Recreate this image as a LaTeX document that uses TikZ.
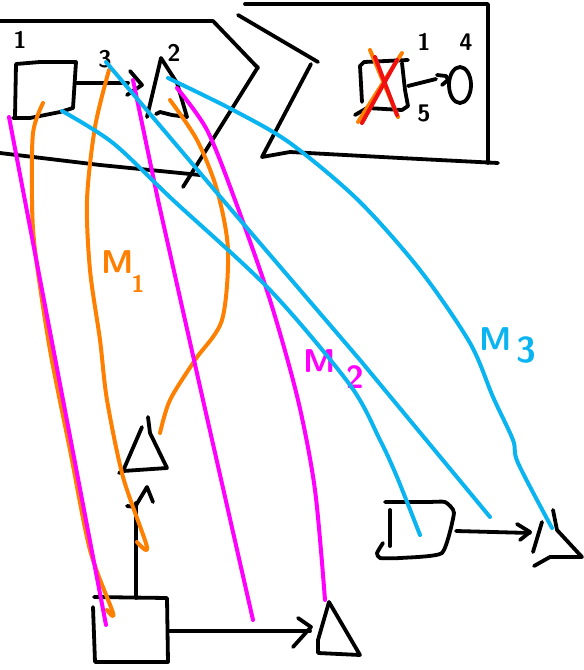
\documentclass[tikz,border=0pt]{standalone}
\usepackage{amsmath,amssymb}
\usetikzlibrary{calc,positioning}

\tikzset{
  sketchline/.style={draw=black, line width=3.8pt, line cap=round, line join=round},
  mapline/.style={line width=4pt, line cap=round, line join=round},
  numlabel/.style={font=\sffamily\bfseries\fontsize{24}{24}\selectfont, text=black, inner sep=0pt},
  maplabel/.style={font=\sffamily\bfseries\fontsize{33}{33}\selectfont, inner sep=0pt},
}

\begin{document}
\begin{tikzpicture}[x=1pt,y=-1pt]
    \definecolor{maporange}{HTML}{ff8000}
    \definecolor{mapmagenta}{HTML}{ff00ff}
    \definecolor{mapcyan}{HTML}{0ab4f0}
    \definecolor{crossred}{HTML}{f01010}
    \useasboundingbox (0,0) rectangle (584,670);

    % =================== left panel ===================
    \draw[sketchline] (0,21) -- (213,21) -- (258,68);
    \draw[sketchline] (258,67) -- (183,187);
    \draw[sketchline] (0,153) -- (100,165) -- (200,175);

    % =================== right panel ===================
    \draw[sketchline] (245,4) -- (488,4) -- (488,163);
    \draw[sketchline] (498,163) -- (400,158) -- (290,152) -- (262,157) -- (311,64);
    \draw[sketchline] (238,15) -- (318,62);

    % crossed square, circle
    \draw[sketchline] (362,102) -- (360,66) -- (364,62) -- (408,60);
    \draw[sketchline] (402,63) -- (405,90) -- (408,106) -- (402,110) -- (367,108) -- (355,115);
    \coordinate (crossout) at (408,86);
    \coordinate (circin) at (436,79);
    \draw[sketchline] (crossout) -- (circin);
    \draw[sketchline] (437,75) -- (446,76) -- (448,80) -- (442,85);
    \draw[sketchline] (460,85) ellipse (11 and 18);
    \node[numlabel] (numone) at (424,42) {1};
    \node[numlabel] (numfour) at (466,42) {4};
    \node[numlabel] (numfive) at (424,113) {5};
    \foreach \a/\b/\c/\d/\col in {370/50/398/117/maporange, 402/53/358/122/maporange,
                                  375/57/397/115/crossred, 397/60/362/123/crossred}{
      \draw[mapline, draw=\col] (\a,\b) -- (\c,\d);
    }

    % =================== top source shapes ===================
    \draw[sketchline] (15,117) -- (16,64) -- (40,62) -- (76,62) -- (73,108) -- (60,112) -- (30,118) -- (13,118);
    \coordinate (sqout) at (77,83);
    \coordinate (triin) at (128,83);
    \draw[sketchline] (sqout) -- (triin);
    \draw[sketchline] (130,71) -- (142,85) -- (127,95);
    \draw[sketchline] (147,117) -- (161,58) -- (177,83) -- (187,117);
    \draw[sketchline] (187,117) -- (172,115) -- (160,112) -- (156,114);
    \node[numlabel] (srcone) at (20,40) {1};
    \node[numlabel] (srcthree) at (105,59) {3};
    \node[numlabel] (srctwo) at (174,53) {2};

    % =================== lower left shapes ===================
    \draw[sketchline] (142,427) -- (123,471) -- (167,468) -- (150,433) -- (148,417);
    \draw[sketchline] (119,473) -- (123,471);
    \draw[sketchline] (93,607) -- (95,662) -- (168,662) -- (167,598) -- (94,597);
    \coordinate (lowout) at (136,598);
    \coordinate (lowtop) at (136,503);
    \draw[sketchline] (lowout) -- (lowtop);
    \draw[sketchline] (127,506) -- (135,507) -- (147,487) -- (153,502);
    \coordinate (lowright) at (170,631);
    \coordinate (lowhead) at (310,631);
    \draw[sketchline] (lowright) -- (lowhead);
    \draw[sketchline] (298,618) -- (311,627) -- (293,647);
    \draw[sketchline] (329,602) -- (318,640) -- (318,653) -- (360,655) -- (329,602);

    % =================== lower right shapes ===================
    \draw[sketchline] plot[smooth, tension=0.3] coordinates {(385,502) (428,502) (445,502) (454,513) (442,553) (400,558) (380,558) (377,553) (383,543)};
    \draw[sketchline] (390,510) -- (390,546);
    \coordinate (rightout) at (456,531);
    \coordinate (righthead) at (530,533);
    \draw[sketchline] (rightout) -- (righthead);
    \draw[sketchline] (517,524) -- (530,532) -- (520,540);
    \draw[sketchline] (542,522) -- (533,552);
    \draw[sketchline] (553,510) -- (557,530) -- (582,557) -- (550,557) -- (534,566);

    % =================== orange curves ===================
    \draw[mapline, draw=maporange] plot[smooth] coordinates {(43,103) (33,133) (32,200) (35,250) (50,350) (70,450) (90,550) (113,613) (107,610)};
    \draw[mapline, draw=maporange] plot[smooth] coordinates {(109,70) (95,127) (87,200) (90,270) (100,340) (107,400) (123,477) (147,547) (137,542)};
    \draw[mapline, draw=maporange] plot[smooth] coordinates {(170,100) (197,140) (217,190) (228,250) (222,320) (195,360) (170,400) (160,433)};
    \node[maplabel, text=maporange, anchor=west] (labelone) at (101,262) {M};
    \node[numlabel, text=maporange] (labelonesub) at (138,284) {1};

    % =================== magenta curves ===================
    \draw[mapline, draw=mapmagenta] (9,117) -- (106,625);
    \draw[mapline, draw=mapmagenta] (133,80) -- (158,200) -- (203,400) -- (253,620);
    \draw[mapline, draw=mapmagenta] plot[smooth] coordinates {(177,88) (207,130) (235,200) (270,300) (298,400) (315,490) (325,600)};
    \node[maplabel, text=mapmagenta, anchor=west] (labeltwo) at (303,361) {M};
    \node[numlabel, text=mapmagenta, font=\sffamily\bfseries\fontsize{32}{32}\selectfont] (labeltwosub) at (355,377) {2};

    % =================== cyan curves ===================
    \draw[mapline, draw=mapcyan] plot[smooth] coordinates {(62,111) (113,143) (173,200) (270,290) (350,385) (380,440) (397,477) (420,535)};
    \draw[mapline, draw=mapcyan] (106,62) -- (223,200) -- (360,360) -- (490,517);
    \draw[mapline, draw=mapcyan] plot[smooth] coordinates {(168,78) (233,110) (290,143) (358,200) (420,270) (470,343) (493,397) (513,440) (518,463) (552,528)};
    \node[maplabel, text=mapcyan, anchor=west] (labelthree) at (479,339) {M};
    \node[numlabel, text=mapcyan, font=\sffamily\bfseries\fontsize{36}{36}\selectfont] (labelthreesub) at (526,350) {3};
\end{tikzpicture}
\end{document}
